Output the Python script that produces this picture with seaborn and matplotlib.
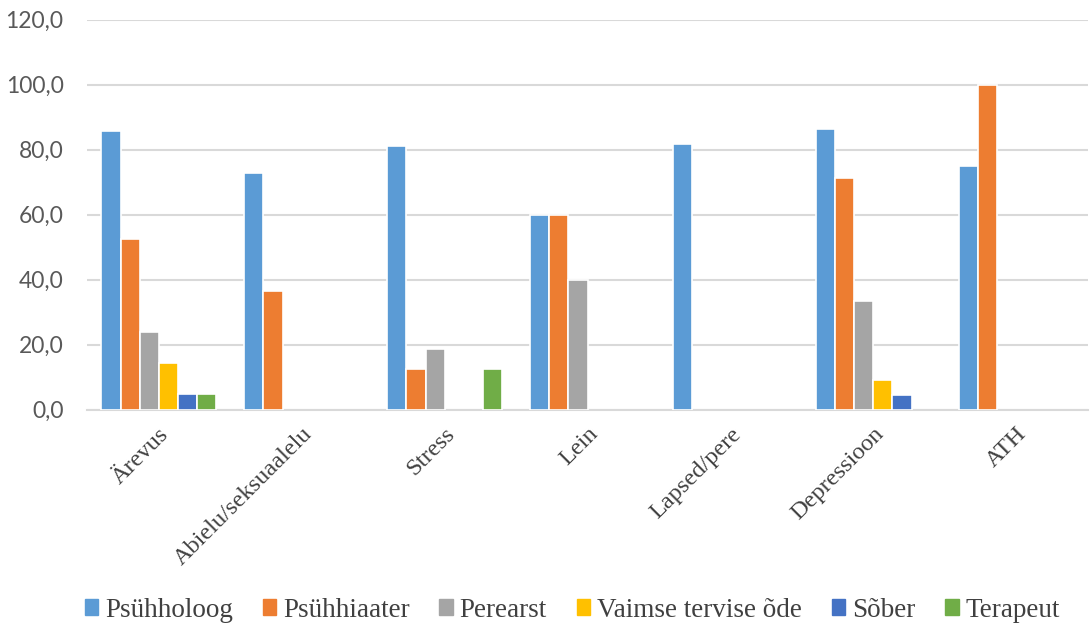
import numpy as np
import pandas as pd
import matplotlib
matplotlib.use("Agg")
import matplotlib.pyplot as plt
import seaborn as sns

# Data
categories = ['Ärevus', 'Abielu/seksuaalelu', 'Stress', 'Lein', 'Lapsed/pere', 'Depressioon', 'ATH']
groups = ['Psühholoog', 'Psühhiaater', 'Perearst', 'Vaimse tervise õde', 'Sõber', 'Terapeut']

psyhholoog = [85.7, 72.7, 81.2, 60.0, 81.8, 86.4, 75.0]
psyhhiaater = [52.4, 36.4, 12.5, 60.0, np.nan, 71.2, 100.0]
perearst = [23.8, np.nan, 18.8, 40.0, np.nan, 33.3, np.nan]
vaimse_ode = [14.3, np.nan, np.nan, np.nan, np.nan, 9.1, np.nan]
sober = [4.8, np.nan, np.nan, np.nan, np.nan, 4.5, np.nan]
terapeut = [4.8, np.nan, 12.5, np.nan, np.nan, np.nan, np.nan]

colors = ['#5B9BD5', '#ED7D31', '#A5A5A5', '#FFC000', '#4472C4', '#70AD47']

series = [psyhholoog, psyhhiaater, perearst, vaimse_ode, sober, terapeut]
rows = []
for g, vals in zip(groups, series):
    for c, v in zip(categories, vals):
        rows.append({'Teema': c, 'Spetsialist': g, 'Protsent': v})
df = pd.DataFrame(rows).dropna()

sns.set_style('white')
plt.rcParams['font.family'] = ['Liberation Serif', 'DejaVu Serif']

fig = plt.figure(figsize=(10.9, 6.27), dpi=100)
ax = fig.add_axes([0.08, 0.3466, 0.918, 0.622])

sns.barplot(data=df, x='Teema', y='Protsent', hue='Spetsialist',
            order=categories, hue_order=groups, palette=colors, saturation=1,
            width=0.8, edgecolor='white', linewidth=1.2, ax=ax, zorder=3)

ax.set_ylim(0, 120)
ax.set_yticks(np.arange(0, 121, 20))
ax.set_yticklabels([f'{v:.1f}'.replace('.', ',') for v in np.arange(0, 121, 20)],
                   family='Lato', fontsize=16.5, color='#595959')
ax.grid(axis='y', color='#D9D9D9', linewidth=1.5, zorder=0)
ax.set_axisbelow(True)
for s in ['top', 'right', 'left']:
    ax.spines[s].set_visible(False)
ax.spines['bottom'].set_color('#D9D9D9')
ax.spines['bottom'].set_linewidth(1.5)
ax.tick_params(axis='both', length=0)
ax.tick_params(axis='y', pad=17)

ax.set_xticks(range(len(categories)))
ax.set_xticklabels(categories, rotation=45, ha='right', rotation_mode='anchor',
                   fontsize=17.5, color='#404040')
ax.tick_params(axis='x', pad=10)
ax.set_xlabel('')
ax.set_ylabel('')

ax.legend_.remove()
handles = [plt.Rectangle((0, 0), 1, 1, color=c) for c in colors]
fig.legend(handles, groups, loc='center', bbox_to_anchor=(0.525, 0.027), ncol=6,
           frameon=False, fontsize=19.5, handlelength=0.5, handleheight=0.5,
           handletextpad=0.25, columnspacing=1.1, labelcolor='#404040')

fig.savefig('out.png', dpi=100)
